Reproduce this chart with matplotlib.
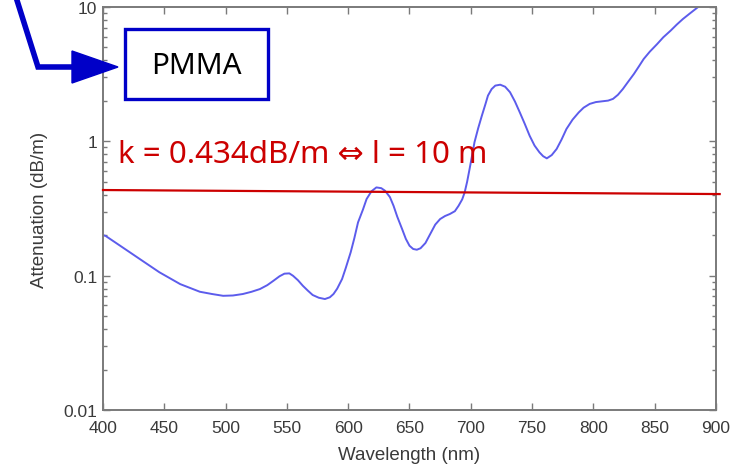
import matplotlib
matplotlib.use("Agg")
import matplotlib.pyplot as plt
from matplotlib.patches import Rectangle, Polygon
from matplotlib.lines import Line2D
from matplotlib.ticker import LogLocator, FixedLocator, NullFormatter

# attenuation spectrum of PMMA fibre
wavelength = [400, 402, 414, 430, 446, 463, 479, 489, 498, 506, 514, 521, 528, 534,
              539, 544, 548, 552, 555, 559, 563, 567, 571, 576, 581, 585, 588, 591,
              595, 598, 602, 605, 608, 612, 615, 619, 623, 627, 630, 634, 637, 640,
              644, 647, 650, 653, 656, 659, 663, 667, 671, 675, 679, 683, 687, 690,
              693, 695, 697, 699, 701, 703, 706, 709, 712, 714, 717, 720, 724, 728,
              732, 736, 740, 744, 748, 752, 756, 759, 762, 766, 770, 774, 778, 783,
              788, 792, 797, 802, 808, 812, 816, 820, 824, 828, 833, 837, 841, 846,
              852, 857, 863, 868, 873, 879, 884, 890]
attenuation = [0.200, 0.198, 0.167, 0.133, 0.106, 0.0865, 0.0759, 0.0730, 0.0708,
               0.0712, 0.0730, 0.0758, 0.0795, 0.0850, 0.0916, 0.0990, 0.1035, 0.104,
               0.0998, 0.0925, 0.0841, 0.0775, 0.0718, 0.0685, 0.0670, 0.0690, 0.0730,
               0.0800, 0.0944, 0.114, 0.149, 0.190, 0.249, 0.310, 0.372, 0.425, 0.454,
               0.448, 0.429, 0.385, 0.331, 0.275, 0.222, 0.188, 0.167, 0.158, 0.156,
               0.160, 0.175, 0.205, 0.240, 0.264, 0.278, 0.288, 0.302, 0.331, 0.370,
               0.417, 0.500, 0.622, 0.780, 0.984, 1.25, 1.55, 1.90, 2.19, 2.45, 2.60,
               2.64, 2.55, 2.32, 1.98, 1.64, 1.35, 1.10, 0.93, 0.828, 0.775, 0.747,
               0.790, 0.877, 1.03, 1.235, 1.45, 1.64, 1.78, 1.90, 1.96, 1.99, 2.01,
               2.07, 2.22, 2.45, 2.75, 3.17, 3.60, 4.10, 4.65, 5.30, 5.95, 6.67, 7.40,
               8.14, 9.00, 9.77, 10.8]

# the 10 m line (0.434 dB/m), drawn slightly sloped as in the original
limit_x = [400, 903]
limit_y = [0.434, 0.405]

x_ticks = [400, 450, 500, 550, 600, 650, 700, 750, 800, 850, 900]
y_ticks = [0.01, 0.1, 1, 10]
y_tick_labels = ["0.01", "0.1", "1", "10"]

W, H = 743, 477
fig = plt.figure(figsize=(W / 100, H / 100), dpi=100)
ax = fig.add_axes([103 / W, 1 - 411 / H, 613 / W, 403 / H])

grey = "#7a7a7a"
text_grey = "#3a3a3a"

ax.plot(wavelength, attenuation, color="#5c5cec", lw=1.4)
ax.plot(limit_x, limit_y, color="#cc0000", lw=1.6, clip_on=False, zorder=5)

ax.set_yscale("log")
ax.set_xlim(400, 900)
ax.set_ylim(0.01, 10)

ax.xaxis.set_major_locator(FixedLocator(x_ticks))
ax.set_yticks(y_ticks)
ax.set_yticklabels(y_tick_labels)
ax.yaxis.set_minor_locator(LogLocator(base=10, subs=range(2, 10)))
ax.yaxis.set_minor_formatter(NullFormatter())

ax.tick_params(which="both", direction="in", top=True, right=True, color=grey,
               labelcolor=text_grey, labelsize=12.5)
ax.tick_params(axis="x", pad=7)
ax.tick_params(axis="y", pad=4)
ax.tick_params(which="major", length=5, width=1)
ax.tick_params(which="minor", length=3, width=1)
for s in ax.spines.values():
    s.set_color(grey)
    s.set_linewidth(1.4)

for lab in ax.get_xticklabels() + ax.get_yticklabels():
    lab.set_family("Liberation Sans")

ax.set_xlabel("Wavelength (nm)", family="Liberation Sans", fontsize=13.5,
              color=text_grey, labelpad=8)
ax.set_ylabel("Attenuation (dB/m)", family="Liberation Sans", fontsize=13.5,
              color=text_grey, labelpad=11)

# red annotation
fig.text(118 / W, 1 - 163 / H, "k = 0.434dB/m \u21d4 l = 10 m", color="#cc0000",
         fontsize=22.6, family=["Noto Sans", "DejaVu Sans"], va="baseline", ha="left")

# PMMA box and the blue arrow (figure pixel positions)
def fp(px, py):
    return px / W, 1 - py / H

blue = "#0000c8"
box = Rectangle(fp(125, 100), 143 / W, 70 / H, transform=fig.transFigure,
                fill=False, edgecolor=blue, lw=2.4)
fig.patches.append(box)
fig.text(*fp(196, 66), "PMMA", fontsize=21.3, family="Noto Sans", color="black",
         ha="center", va="center")

xs, ys = zip(fp(15, -5), fp(38, 68), fp(80, 68))
fig.lines.append(Line2D(xs, ys, transform=fig.transFigure, color=blue, lw=4,
                        solid_joinstyle="miter"))
head = Polygon([fp(72, 52), fp(118, 68), fp(72, 84)], closed=True,
               transform=fig.transFigure, color=blue)
fig.patches.append(head)

fig.savefig("out.png", dpi=100)
